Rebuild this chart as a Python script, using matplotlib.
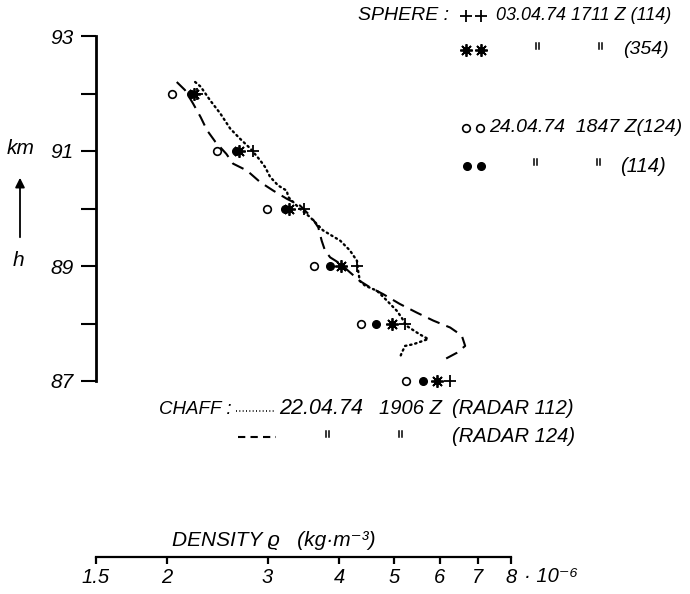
import numpy as np
import matplotlib
matplotlib.use("Agg")
import matplotlib.pyplot as plt

plt.rcParams["font.family"] = ["Liberation Sans", "DejaVu Sans"]
plt.rcParams["font.style"] = "italic"

# altitude levels of the sphere measurements (km)
altitudes = [92, 91, 90, 89, 88, 87]
# densities in 1e-6 kg/m^3
sphere_0304_114 = [2.26, 2.83, 3.47, 4.30, 5.22, 6.26]   # ++
sphere_0304_354 = [2.23, 2.67, 3.27, 4.03, 4.95, 5.94]   # asterisks
sphere_2404_124 = [2.04, 2.45, 2.99, 3.62, 4.37, 5.24]   # open circles
sphere_2404_114 = [2.20, 2.64, 3.22, 3.86, 4.64, 5.62]   # filled circles

# chaff profiles 22.04.74 1906 Z
chaff112_dens = [2.24, 2.29, 2.38, 2.48, 2.58, 2.68, 2.80, 2.91, 2.97, 3.03,
                 3.13, 3.24, 3.26, 3.42, 3.56, 3.75, 4.02, 4.18, 4.30, 4.32,
                 4.35, 4.44, 4.66, 4.85, 5.05, 5.15, 5.25, 5.54, 5.73, 5.40,
                 5.22, 5.15, 5.11]
chaff112_alt = [92.20, 92.12, 91.88, 91.65, 91.39, 91.22, 91.04, 90.84, 90.72, 90.55,
                90.40, 90.31, 90.20, 89.99, 89.85, 89.62, 89.44, 89.27, 89.09, 88.92,
                88.74, 88.66, 88.57, 88.40, 88.22, 88.10, 87.96, 87.81, 87.73, 87.64,
                87.61, 87.49, 87.40]
chaff124_dens = [2.08, 2.15, 2.22, 2.29, 2.35, 2.43, 2.54, 2.61, 2.76, 2.91,
                 3.07, 3.24, 3.42, 3.58, 3.68, 3.73, 3.78, 3.86, 4.02, 4.18,
                 4.35, 4.53, 4.78, 5.11, 5.47, 5.85, 6.26, 6.56, 6.65, 6.43, 6.13]
chaff124_alt = [92.20, 92.06, 91.83, 91.59, 91.36, 91.16, 90.95, 90.78, 90.66, 90.46,
                90.31, 90.17, 90.05, 89.85, 89.67, 89.44, 89.27, 89.15, 89.04, 88.89,
                88.74, 88.63, 88.51, 88.34, 88.19, 88.05, 87.93, 87.79, 87.61, 87.49, 87.38]

xticks = [1.5, 2, 3, 4, 5, 6, 7, 8]
xticklabels = ["1.5", "2", "3", "4", "5", "6", "7", "8"]

W, H = 690, 594
fig = plt.figure(figsize=(W / 100, H / 100), dpi=100)
FS = 13

# pixel layout
x0 = -5 + 571.4 * np.log10(1.5)
x1 = -5 + 571.4 * np.log10(8)
ytop, ybot = 36, 381
left, width = x0 / W, (x1 - x0) / W

ax = fig.add_axes([left, 1 - ybot / H, width, (ybot - ytop) / H])
ax.set_xscale("log")
ax.set_xlim(1.5, 8)
ax.set_ylim(87, 93)
for s in ["top", "right", "bottom"]:
    ax.spines[s].set_visible(False)
ax.spines["left"].set_linewidth(2)
ax.set_xticks([])
ax.set_xticks([], minor=True)
ax.set_yticks([87, 89, 91, 93])
ax.set_yticklabels(["87", "89", "91", "93"])
ax.set_yticks([88, 90, 92], minor=True)
ax.tick_params(axis="y", which="both", length=11, width=1.5, direction="out",
               labelsize=15, pad=5)
ax.patch.set_visible(False)

ax.plot(chaff112_dens, chaff112_alt, color="black", lw=1.7,
        linestyle=(0, (0.6, 1.6)), dash_capstyle="round")
ax.plot(chaff124_dens, chaff124_alt, color="black", lw=1.5,
        linestyle=(0, (6, 3.5)))

mk = dict(ls="none", clip_on=False)
ax.plot(sphere_2404_124, altitudes, "o", ms=5.5, mfc="white", mec="black", mew=1.2, **mk)
ax.plot(sphere_2404_114, altitudes, "o", ms=5.5, mfc="black", mec="black", **mk)
ax.plot(sphere_0304_354, altitudes, marker=(8, 2, 0), ms=9, mec="black", mew=1.3, **mk)
ax.plot(sphere_0304_354, altitudes, "o", ms=4, mfc="black", mec="black", **mk)
ax.plot(sphere_0304_114, altitudes, "+", ms=9, mec="black", mew=1.3, **mk)

# bottom density axis
axb = fig.add_axes([left, 1 - 557 / H, width, 0.0005])
axb.set_xscale("log")
axb.set_xlim(1.5, 8)
for s in ["top", "right", "left"]:
    axb.spines[s].set_visible(False)
axb.spines["bottom"].set_linewidth(1.6)
axb.set_yticks([])
axb.set_xticks(xticks)
axb.set_xticklabels(xticklabels)
axb.set_xticks([], minor=True)
axb.tick_params(axis="x", length=5, width=1.6, direction="out", labelsize=14.5, pad=3)
axb.patch.set_visible(False)

# overlay in pixel coords for annotations
ov = fig.add_axes([0, 0, 1, 1])
ov.set_xlim(0, W)
ov.set_ylim(H, 0)
ov.axis("off")
ov.patch.set_visible(False)


def txt(x, y, s, size=FS, ha="left", **kw):
    ov.text(x, y, s, fontsize=size, ha=ha, va="center", **kw)


def ditto(x, y):
    for dx in (-1.5, 1.5):
        ov.plot([x + dx, x + dx], [y - 7, y - 1], color="black", lw=1.1)


txt(7, 148, "km", size=15)
txt(13, 260, "h", size=15)
ov.annotate("", xy=(20, 175), xytext=(20, 240),
            arrowprops=dict(arrowstyle="-|>", color="black", lw=1.3,
                            mutation_scale=14))

txt(172, 540, "DENSITY ϱ   (kg·m⁻³)", size=15)
txt(524, 577, "· 10⁻⁶", size=14.5)

# sphere legend
txt(358, 16, "SPHERE :", size=14)
ov.plot([466, 481], [16, 16], "+", ms=9, mec="black", mew=1.3)
txt(496, 16, "03.04.74 1711 Z (114)", size=13)
ov.plot([466, 481], [50, 50], marker=(8, 2, 0), ls="none", ms=9, mec="black", mew=1.3)
ov.plot([466, 481], [50, 50], "o", ms=4, mfc="black", mec="black")
ditto(537, 50)
ditto(600, 50)
txt(623, 50, "(354)", size=14)
ov.plot([466, 480], [128, 128], "o", ms=5.5, mfc="white", mec="black", mew=1.2)
txt(489, 128, "24.04.74  1847 Z(124)", size=14)
ov.plot([467, 481], [166, 166], "o", ms=5.5, mfc="black", mec="black")
ditto(535, 166)
ditto(598, 166)
txt(620, 166, "(114)", size=14.5)

# chaff legend
txt(232, 409, "CHAFF :", size=13.5, ha="right")
ov.plot([236, 276], [411, 411], color="black", lw=1.2, linestyle=(0, (0.6, 1.4)))
txt(279, 409, "22.04.74", size=15.5)
txt(379, 409, "1906 Z", size=14.5)
txt(452, 409, "(RADAR 112)", size=14.5)
ov.plot([238, 276], [437, 437], color="black", lw=1.5, linestyle=(0, (3.5, 2.5)))
ditto(327, 438)
ditto(400, 438)
txt(452, 436, "(RADAR 124)", size=14.5)

fig.savefig("out.png", dpi=100, facecolor="white")
